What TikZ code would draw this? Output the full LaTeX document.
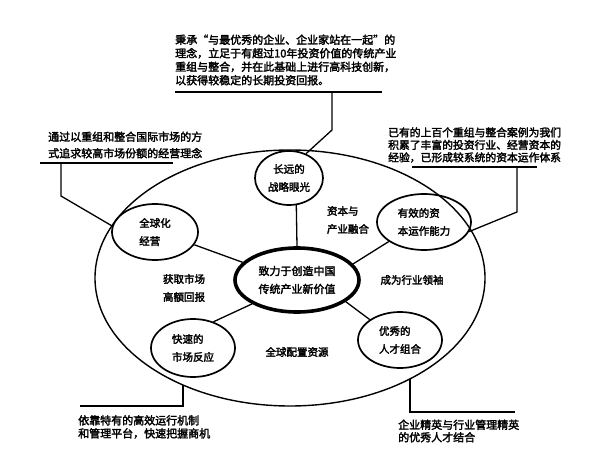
\documentclass[tikz,border=0pt]{standalone}
\usepackage{fontspec}
\newfontfamily\cjk[FakeBold=2.5]{Noto Sans CJK SC}
\usetikzlibrary{shapes.geometric}

\begin{document}
\begin{tikzpicture}[x=1pt, y=-1pt,
  bubble/.style={draw, ellipse, line width=1.7pt, inner sep=0pt, align=left,
    font=\cjk\fontsize{10.5}{18}\selectfont},
  tag/.style={inner sep=0pt, align=left, font=\cjk\fontsize{10.5}{18}\selectfont},
  note/.style={anchor=west, inner sep=0pt, align=left},
  link/.style={line width=1.3pt}]
  \useasboundingbox (0,0) rectangle (600,465);

  % Outer ellipse
  \draw[line width=1.4pt] (290,278) ellipse [x radius=195, y radius=128];

  % Core and the five bubbles
  \node[bubble, line width=3.6pt, minimum width=124pt, minimum height=64pt, align=center,
    font=\cjk\fontsize{11}{18}\selectfont] (core) at (297,280) {致力于创造中国\\传统产业新价值};
  \node[bubble, align=center, minimum width=68pt, minimum height=54pt] (longterm) at (289,178) {长远的\\战略眼光};
  \node[bubble, minimum width=86pt, minimum height=56pt] (global) at (155,232) {全球化\\经营};
  \node[bubble, minimum width=94pt, minimum height=56pt] (capital) at (424,222) {有效的资\\本运作能力};
  \node[bubble, minimum width=84pt, minimum height=58pt] (speed) at (193,348) {快速的\\市场反应};
  \node[bubble, minimum width=84pt, minimum height=56pt] (talent) at (400,340) {优秀的\\人才组合};

  % Spokes
  \draw[link] (longterm.285) -- (core.north);
  \draw[link] (global.342) -- (core.162);
  \draw[link] (capital.209) -- (core.16);
  \draw[link] (speed.52) -- (core.208);
  \draw[link] (talent.146) -- (core.336);

  % Labels inside the ring
  \node[tag] (fusion) at (348,220) {资本与\\产业融合};
  \node[tag] (returns) at (184,288) {获取市场\\高额回报};
  \node[tag] (leader) at (412,280) {成为行业领袖};
  \node[tag] (allocate) at (297,352) {全球配置资源};

  % Notes outside
  \node[note, font=\cjk\fontsize{11}{13.5}\selectfont] (visionnote) at (175,60)
    {秉承“与最优秀的企业、企业家站在一起”的\\理念，立足于有超过10年投资价值的传统产业\\重组与整合，并在此基础上进行高科技创新，\\以获得较稳定的长期投资回报。};
  \node[note, font=\cjk\fontsize{11}{16.5}\selectfont] (globalnote) at (48,145)
    {通过以重组和整合国际市场的方\\式追求较高市场份额的经营理念};
  \node[note, font=\cjk\fontsize{10.8}{12.5}\selectfont] (capitalnote) at (388,145)
    {已有的上百个重组与整合案例为我们\\积累了丰富的投资行业、经营资本的\\经验，已形成较系统的资本运作体系};
  \node[note, font=\cjk\fontsize{11}{13}\selectfont] (speednote) at (78,427)
    {依靠特有的高效运行机制\\和管理平台，快速把握商机};
  \node[note, font=\cjk\fontsize{11}{12.5}\selectfont] (talentnote) at (398,431)
    {企业精英与行业管理精英\\的优秀人才结合};

  % Leader lines
  \coordinate (visionL) at (175,92);
  \coordinate (visionR) at (382,92);
  \coordinate (visionK) at (332,92);
  \coordinate (visionB) at (332,130);
  \draw[link] (visionL) -- (visionR);
  \draw[link] (visionK) -- (visionB) -- (longterm.55);

  \coordinate (globalL) at (40,163);
  \coordinate (globalR) at (173,163);
  \coordinate (globalK) at (61,163);
  \coordinate (globalB) at (61,196);
  \draw[link] (globalL) -- (globalR);
  \draw[link] (globalK) -- (globalB) -- (global.172);

  \coordinate (capitalL) at (412,167);
  \coordinate (capitalR) at (537,167);
  \coordinate (capitalK) at (517,167);
  \coordinate (capitalB) at (517,212);
  \draw[link] (capitalL) -- (capitalR);
  \draw[link] (capitalK) -- (capitalB) -- (capital.348);

  \coordinate (speedT) at (183,385);
  \coordinate (speedK) at (183,406);
  \coordinate (speedL) at (80,406);
  \draw[link] (speedT) -- (speedK) -- (speedL);

  \coordinate (talentT) at (410,379);
  \coordinate (talentK) at (410,412);
  \coordinate (talentR) at (515,412);
  \draw[link] (talentT) -- (talentK) -- (talentR);
\end{tikzpicture}
\end{document}
